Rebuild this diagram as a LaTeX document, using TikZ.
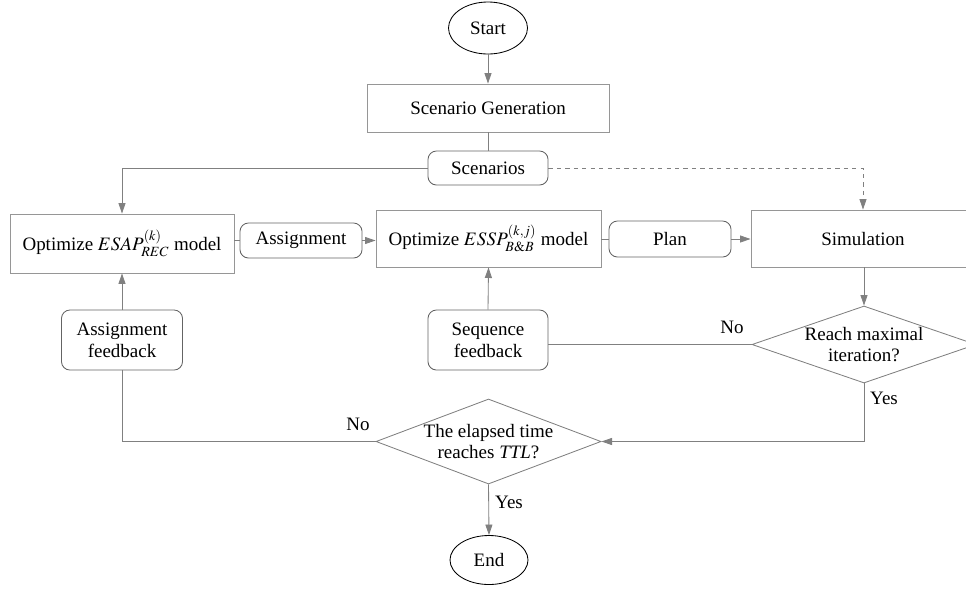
\documentclass[tikz,border=0pt]{standalone}
\usepackage{mathptmx}
\usepackage{fontspec}
\setmainfont{Liberation Serif}
\usetikzlibrary{shapes.geometric,arrows.meta}
\definecolor{linegray}{RGB}{128,128,128}
\definecolor{boxgray}{RGB}{150,150,150}
\definecolor{roundgray}{RGB}{100,100,100}

\begin{document}
\begin{tikzpicture}[x=0.025cm,y=-0.025cm,
		every node/.style={font=\fontsize{13.5}{15.5}\selectfont, inner sep=0pt},
		term/.style={ellipse, draw=black, line width=0.6pt},
		procbox/.style={rectangle, draw=boxgray, line width=0.6pt},
		databox/.style={rectangle, rounded corners=6pt, draw=roundgray, line width=0.6pt, align=center},
		decide/.style={diamond, draw=linegray, line width=0.6pt},
		conn/.style={draw=linegray, line width=0.6pt},
		arr/.style={conn, -{Triangle[length=7.5pt,width=5pt]}, color=linegray}]
		\useasboundingbox (0,0) rectangle (966,588);
		\clip (0,0) rectangle (966,588);
		% nodes
		\node[term, minimum width=1.975cm, minimum height=1.3cm] (start) at (488,28) {Start};
		\node[procbox, minimum width=6.05cm, minimum height=1.2cm] (scengen) at (488,108) {Scenario Generation};
		\node[databox, minimum width=3cm, minimum height=0.85cm] (scen) at (488,168) {Scenarios};
		\node[procbox, minimum width=5.6cm, minimum height=1.475cm] (esap) at (122,243.5) {Optimize $ESAP_{REC}^{(k)}$ model};
		\node[databox, minimum width=3.05cm, minimum height=0.875cm] (assign) at (301,240.5) {Assignment};
		\node[procbox, minimum width=5.625cm, minimum height=1.425cm] (essp) at (488.5,238.5) {Optimize $ESSP_{B\&B}^{(k,j)}$ model};
		\node[databox, minimum width=3.05cm, minimum height=0.9cm] (plan) at (670,239) {Plan};
		\node[procbox, minimum width=5.6cm, minimum height=1.425cm] (sim) at (863,238.5) {Simulation};
		\node[decide, minimum width=5.6cm, minimum height=1.925cm,
			label={[align=center]center:Reach maximal\\iteration?}] (reach) at (864,344.5) {};
		\node[databox, minimum width=3cm, minimum height=1.5cm] (seqfb) at (488,340) {Sequence\\feedback};
		\node[databox, minimum width=3.025cm, minimum height=1.5cm] (asgfb) at (122,340) {Assignment\\feedback};
		\node[decide, minimum width=5.625cm, minimum height=2.125cm,
			label={[align=center]center:The elapsed time\\reaches \textit{TTL}?}] (ttl) at (488.5,441.5) {};
		\node[term, minimum width=1.95cm, minimum height=1.225cm] (end) at (489,560) {End};
		% connectors
		\draw[arr] (start) -- (scengen);
		\draw[conn] (scengen) -- (scen);
		\draw[arr] (scen.west) -| (esap.north);
		\draw[arr, dashed] (scen.east) -| (sim.north);
		\draw[conn] (esap.east |- assign) -- (assign.west);
		\draw[arr] (assign.east) -- (essp.west |- assign);
		\draw[conn] (essp.east |- plan) -- (plan.west);
		\draw[arr] (plan.east) -- (sim.west |- plan);
		\draw[arr] (sim.south -| reach) -- (reach.north);
		\draw[conn] (reach.west) -- (seqfb.east |- reach.west);
		\draw[arr] (seqfb.north) -- (essp.south);
		\draw[arr] (asgfb.north) -- (esap.south);
		\draw[conn] (ttl.west) -| (asgfb.south);
		\draw[arr] (reach.south) |- (ttl.east);
		\draw[arr] (ttl.south) -- (end.north);
		% branch labels
		\node (no1) at (732,327) {No};
		\node (no2) at (358,424) {No};
		\node (yes1) at (884,398) {Yes};
		\node (yes2) at (509,502) {Yes};
	\end{tikzpicture}
\end{document}
